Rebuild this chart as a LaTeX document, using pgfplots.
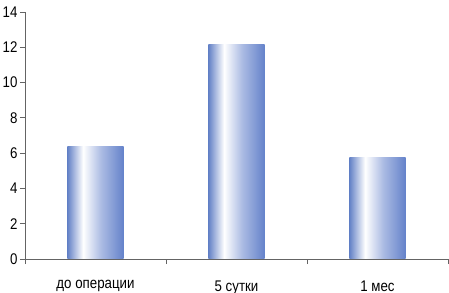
\documentclass[border=0pt]{standalone}
\usepackage{fontspec}
\setmainfont{Liberation Sans}[FakeStretch=0.86]
\usepackage{pgfplots}
\pgfplotsset{compat=1.18}
\definecolor{barL}{RGB}{98,128,198}
\definecolor{barR}{RGB}{100,130,202}
\definecolor{barM}{RGB}{150,170,220}
\definecolor{axgray}{RGB}{100,100,100}
\pgfdeclarehorizontalshading{barshade}{100bp}{color(0bp)=(barL); color(25bp)=(barL); color(39bp)=(white); color(55bp)=(barM!80!white); color(75bp)=(barR); color(100bp)=(barR)}
\begin{document}
\begin{tikzpicture}[x=1bp,y=1bp]
\begin{axis}[
  scale only axis,
  width=423bp, height=247bp,
  xmin=0, xmax=3, ymin=0, ymax=14,
  axis lines*=left,
  axis line style={axgray, line width=0.9bp},
  every tick/.style={axgray, line width=0.8bp},
  tick align=outside,
  major tick length=5bp,
  ytick={0,2,...,14},
  xtick={0,1,2,3},
  xticklabels={},
  extra x ticks={0.5,1.5,2.5},
  extra x tick labels={до операции,5 сутки,1 мес},
  extra x tick style={major tick length=0pt, tick label style={yshift=-18bp}},
  tick label style={font=\fontsize{15.5}{17}\selectfont, black},
  /pgf/number format/assume math mode=true,
  yticklabel style={xshift=1bp},
  bar width=0.4,
  clip=false,
]
\addplot[ybar, bar shift=0, draw=none, shading=barshade] coordinates {(0.5,6.35)};
\addplot[ybar, bar shift=0, draw=none, shading=barshade] coordinates {(1.5,12.13)};
\addplot[ybar, bar shift=0, draw=none, shading=barshade] coordinates {(2.5,5.73)};
\coordinate (o) at (rel axis cs:0,0);
\end{axis}
\pgfresetboundingbox
\path ([xshift=-25bp,yshift=-34bp]o) rectangle ([xshift=424bp,yshift=259bp]o);
\end{tikzpicture}
\end{document}
